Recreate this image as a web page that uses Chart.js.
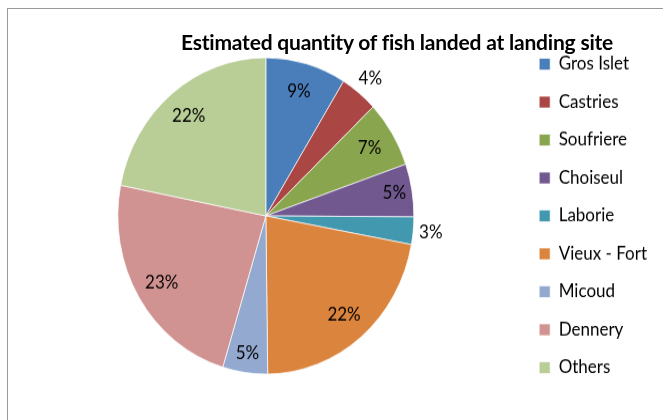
<!DOCTYPE html>
<html>
<head>
<meta charset="utf-8">
<script src="https://cdn.jsdelivr.net/npm/chart.js@4/dist/chart.umd.min.js"></script>
<style>
  html, body { margin: 0; padding: 0; background: #fff; }
  #wrap { position: relative; width: 663px; height: 420px; overflow: hidden; }
  #frame { position: absolute; left: 7px; top: 8px; width: 700px; height: 500px;
           border-top: 1px solid #9a9a9a; border-left: 1px solid #9a9a9a; }
  #title { position: absolute; left: 147px; width: 500px; top: 29px; line-height: 22px; text-align: center;
           font: bold 21px Lato, sans-serif; color: #000; white-space: nowrap; letter-spacing: -0.2px; }
  /* the reference is a little taller than wide, so stretch the canvas vertically */
  canvas { position: absolute; left: 0; top: 0; transform-origin: 0 0; transform: scale(1, 1.0687); }
</style>
</head>
<body>
<div id="wrap">
  <div id="frame"></div>
  <canvas id="fishChart" width="663" height="393"></canvas>
  <div id="title">Estimated quantity of fish landed at landing site</div>
</div>
<script>
const sites = ['Gros Islet', 'Castries', 'Soufriere', 'Choiseul', 'Laborie', 'Vieux - Fort', 'Micoud', 'Dennery', 'Others'];
const shares = [8.8, 4.1, 6.8, 5.4, 2.8, 21.9, 4.9, 23.4, 21.9];
const colors = ['#4a7ebb', '#aa4643', '#89a54e', '#71588f', '#4198af', '#db843d', '#93a9cf', '#d19392', '#b9cd96'];

document.addEventListener('DOMContentLoaded', () => {
  const ctx = document.getElementById('fishChart');

  // percent labels, placed from each arc's own geometry
  const pctLabels = {
    id: 'pctLabels',
    afterDatasetsDraw(chart) {
      const meta = chart.getDatasetMeta(0);
      const data = chart.data.datasets[0].data;
      const total = data.reduce((a, b) => a + b, 0);
      const c = chart.ctx;
      c.save();
      c.font = '17px Lato, sans-serif';
      c.fillStyle = '#000';
      c.textAlign = 'center';
      c.textBaseline = 'middle';
      meta.data.forEach((arc, i) => {
        const p = data[i] / total * 100;
        const mid = (arc.startAngle + arc.endAngle) / 2;
        let f = 0.82;
        if (p < 4.5) f = 1.12;      // small slices get the label outside
        else if (p < 6) f = 0.88;
        const r = arc.outerRadius * f;
        c.fillText(Math.round(p) + '%', arc.x + Math.cos(mid) * r, arc.y + Math.sin(mid) * r);
      });
      c.restore();
    }
  };

  new Chart(ctx, {
    type: 'pie',
    data: {
      labels: sites,
      datasets: [{
        data: shares,
        backgroundColor: colors,
        borderColor: 'rgba(255,255,255,0.7)',
        borderWidth: 1
      }]
    },
    options: {
      responsive: false,
      animation: false,
      radius: 148,
      layout: { padding: { top: 16, bottom: 5, left: 11, right: 6 } },
      plugins: {
        title: { display: false },
        tooltip: { enabled: false },
        legend: {
          position: 'right',
          align: 'center',
          labels: {
            boxWidth: 11,
            boxHeight: 11,
            padding: 18.5,
            color: '#000',
            font: { family: 'Lato, sans-serif', size: 17 }
          }
        }
      }
    },
    plugins: [pctLabels]
  });
});
</script>
</body>
</html>
